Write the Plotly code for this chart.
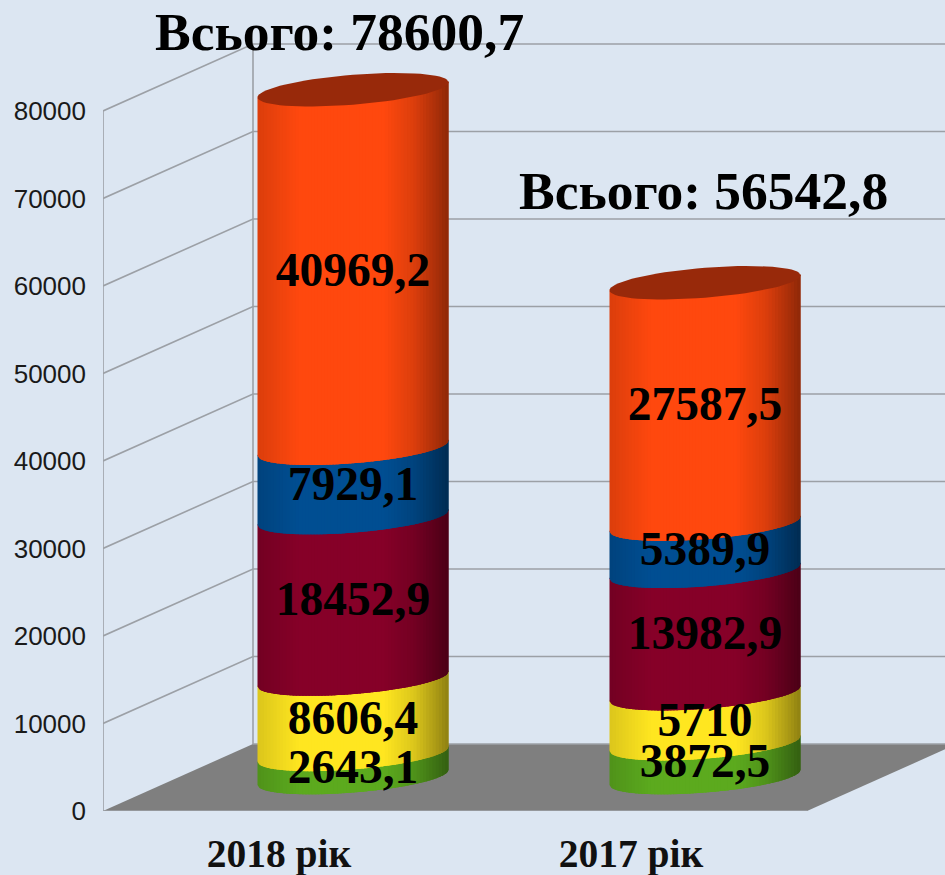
import math
import plotly.graph_objects as go

categories = ["2018 рік", "2017 рік"]
green = [2643.1, 3872.5]
yellow = [8606.4, 5710]
maroon = [18452.9, 13982.9]
blue = [7929.1, 5389.9]
orange = [40969.2, 27587.5]
segment_labels = [["2643,1", "8606,4", "18452,9", "7929,1", "40969,2"],
                  ["3872,5", "5710", "13982,9", "5389,9", "27587,5"]]
total_labels = ["Всього: 78600,7", "Всього: 56542,8"]
y_ticks = [0, 10000, 20000, 30000, 40000, 50000, 60000, 70000, 80000]

series = [green, yellow, maroon, blue, orange]
colors = [(92, 170, 30), (255, 230, 32), (134, 0, 40), (0, 78, 146), (255, 72, 14)]
top_color = "#98290A"
BG = "#DCE6F2"
GRID = "#9CA0A6"
FLOOR = "#7F7F7F"

W, H = 945, 875
L, BOTTOM = 103, 64
CAT_PX = 352.0          # pixels per category on the x axis
V_PX = 8.75 / 1000.0    # pixels per value unit
DEPTH_X, DEPTH_Y = 150.0, 67.0
RX, TILT, RY = 95.5, 7.5, 15.0
STRIPS = 60


def X(cat, px=0.0):
    return cat + px / CAT_PX


def Y(val, px=0.0):
    return val + px / V_PX


def shade(u):
    pts = [(0, .86), (.22, 1), (.66, 1), (.82, .86), (1, .56)]
    for (a, b), (c, d) in zip(pts, pts[1:]):
        if u <= c:
            return b + (d - b) * (u - a) / (c - a)
    return pts[-1][1]


fig = go.Figure()


def add_poly(xs, ys, color):
    fig.add_trace(go.Scatter(x=xs, y=ys, mode="lines", fill="toself", fillcolor=color,
                             line=dict(color=color, width=0), hoverinfo="skip"))


def add_line(xs, ys):
    fig.add_trace(go.Scatter(x=xs, y=ys, mode="lines", line=dict(color=GRID, width=1.6),
                             hoverinfo="skip", cliponaxis=False))


x_max = (W - L) / CAT_PX
y_max = (H - BOTTOM) / V_PX

# floor
fig.add_trace(go.Scatter(
    x=[0, 2, X(2, DEPTH_X), X(0, DEPTH_X), 0], y=[0, 0, Y(0, DEPTH_Y), Y(0, DEPTH_Y), 0],
    mode="lines", fill="toself", fillcolor=FLOOR, line=dict(width=0), hoverinfo="skip"))

# walls and the axis lines, which stop at the chart's box
for t in y_ticks[1:]:
    add_line([0, X(0, DEPTH_X), x_max], [t, Y(t, DEPTH_Y), Y(t, DEPTH_Y)])
add_line([X(0, DEPTH_X), X(0, DEPTH_X)], [Y(0, DEPTH_Y), Y(y_ticks[-1], DEPTH_Y)])
add_line([X(0, DEPTH_X), x_max], [Y(0, DEPTH_Y), Y(0, DEPTH_Y)])
add_line([0, 0], [0, y_ticks[-1]])
add_line([0, 2], [0, 0])

# cylinders
label_x, label_y, label_t = [], [], []
for i in range(len(categories)):
    cat = i + 0.5
    base = 0.0
    for k, s in enumerate(series):
        v = s[i]
        # each strip overlaps the next one, so that no seams show between them
        for j in range(STRIPS):
            u1, u2 = j / STRIPS, min(1.0, (j + 2.5) / STRIPS)
            ax = [-1 + 2 * (u1 + (u2 - u1) * q / 4) for q in range(5)]
            low = [(RX * a, TILT * a - RY * math.sqrt(max(0, 1 - a * a))) for a in ax]
            xs = [X(cat, 74 + p[0]) for p in low] + [X(cat, 74 + p[0]) for p in low[::-1]]
            ys = [Y(base, DEPTH_Y / 2 + p[1]) for p in low] + \
                 [Y(base + v, DEPTH_Y / 2 + p[1] + 1.2) for p in low[::-1]]
            f = shade((j + 0.5) / STRIPS)
            c = colors[k]
            add_poly(xs, ys, "rgb(%d,%d,%d)" % tuple(round(ch * f) for ch in c))
        label_x.append(X(cat, 74))
        label_y.append(Y(base + v / 2, DEPTH_Y / 2 - 5))
        label_t.append(segment_labels[i][k])
        base += v
    # top face
    n = 72
    add_poly([X(cat, 74 + RX * math.cos(2 * math.pi * q / n)) for q in range(n + 1)],
             [Y(base, DEPTH_Y / 2 + TILT * math.cos(2 * math.pi * q / n) + RY * math.sin(2 * math.pi * q / n))
              for q in range(n + 1)], top_color)

fig.add_trace(go.Scatter(x=label_x, y=label_y, text=label_t, mode="text", textposition="middle center",
                         textfont=dict(family="Liberation Serif", size=47.5, color="black",
                                       weight="bold"), hoverinfo="skip", cliponaxis=False))

for px, py, t in zip([339, 703], [32, 191], total_labels):
    fig.add_annotation(text="<b>%s</b>" % t, xref="x", yref="y", x=(px - L) / CAT_PX,
                       y=(H - BOTTOM - py) / V_PX, showarrow=False, xanchor="center", yanchor="middle",
                       font=dict(family="Liberation Serif", size=53.5, color="black"))

fig.update_layout(
    width=W, height=H, autosize=False, showlegend=False,
    paper_bgcolor=BG, plot_bgcolor=BG,
    margin=dict(l=L, r=0, t=0, b=BOTTOM, autoexpand=False),
    xaxis=dict(range=[0, x_max], tickvals=[0.5, 1.5], ticktext=["<b>%s</b>" % c for c in categories],
               showgrid=False, zeroline=False, showline=False, ticks="",
               ticklabelstandoff=15, tickfont=dict(family="Liberation Serif", size=39.5, color="#111")),
    yaxis=dict(range=[0, y_max], tickvals=y_ticks, tickformat="d", showgrid=False, zeroline=False,
               showline=False, ticks="", ticklabelstandoff=16,
               tickfont=dict(family="Liberation Sans", size=26, color="#1a1a1a")),
)
fig.write_html("out.html", config={"displayModeBar": False},
               post_script="document.body.style.margin='0';document.documentElement.style.background='%s';" % BG)
